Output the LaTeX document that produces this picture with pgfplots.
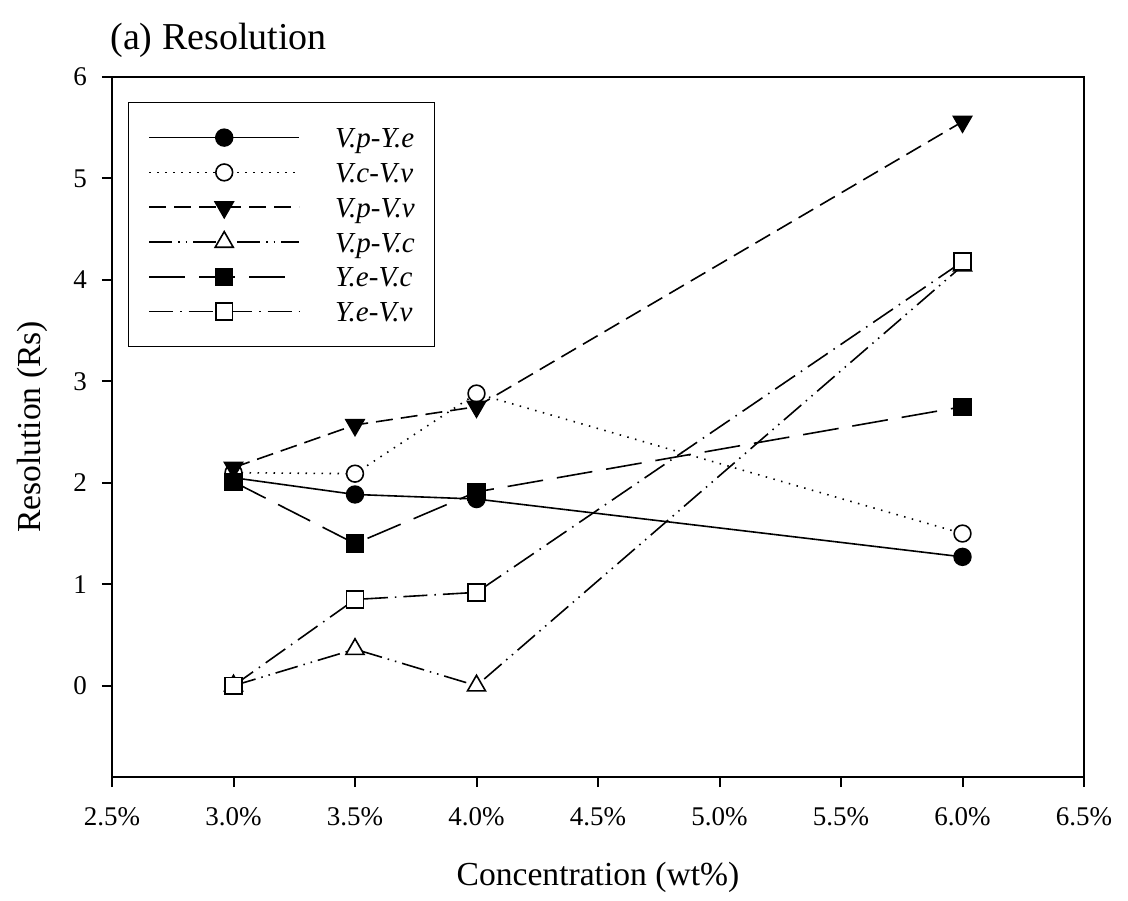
\documentclass[border=0pt]{standalone}
\usepackage{pgfplots}
\pgfplotsset{compat=1.18}
\usepackage{fontspec}
\setmainfont{Liberation Serif}

% Resolution values per concentration (wt%)
\pgfplotstableread{
x    y
3.0  2.05
3.5  1.885
4.0  1.84
6.0  1.27
}\VpYe
\pgfplotstableread{
x    y
3.0  2.10
3.5  2.09
4.0  2.88
6.0  1.50
}\VcVv
\pgfplotstableread{
x    y
3.0  2.15
3.5  2.57
4.0  2.75
6.0  5.56
}\VpVv
\pgfplotstableread{
x    y
3.0  0.00
3.5  0.36
4.0  0.00
6.0  4.14
}\VpVc
\pgfplotstableread{
x    y
3.0  2.01
3.5  1.40
4.0  1.91
6.0  2.75
}\YeVc
\pgfplotstableread{
x    y
3.0  0.00
3.5  0.85
4.0  0.92
6.0  4.18
}\YeVv

\begin{document}
\begin{tikzpicture}[x=1pt,y=1pt]
\useasboundingbox (0,0) rectangle (564,450);
\node[anchor=base west, font=\fontsize{19}{22}\selectfont, inner sep=0pt] at (55,425) {(a) Resolution};
\begin{axis}[
  at={(56pt,61.5pt)}, anchor=south west,
  width=486pt, height=350pt, scale only axis,
  xmin=2.5, xmax=6.5, ymin=-0.9, ymax=6,
  xtick={2.5,3,3.5,4,4.5,5,5.5,6,6.5},
  xticklabels={2.5\%,3.0\%,3.5\%,4.0\%,4.5\%,5.0\%,5.5\%,6.0\%,6.5\%},
  ytick={0,1,2,3,4,5,6},
  yticklabels={0,1,2,3,4,5,6},
  tick align=outside,
  xtick pos=bottom, ytick pos=left,
  major tick length=5pt,
  axis line style={line width=1pt},
  tick style={line width=1pt, black},
  tick label style={font=\fontsize{13.5}{16}\selectfont},
  xticklabel style={yshift=-6.5pt},
  yticklabel style={xshift=-4pt},
  label style={font=\fontsize{16.8}{20}\selectfont},
  xlabel={Concentration (wt\%)},
  ylabel={Resolution (Rs)},
  xlabel style={at={(axis description cs:0.5,-0.143)}, anchor=center},
  ylabel style={at={(axis description cs:-0.0823,0.5)}, anchor=center},
  legend image code/.code={%
    \draw[mark repeat=2,mark phase=2] plot coordinates {(0pt,0pt)(37.5pt,0pt)(75pt,0pt)};
    \path[draw=none] (0pt,0pt) -- (93pt,0pt);},
  legend style={at={(axis description cs:0.0165,0.964)}, anchor=north west,
    draw=black, font=\fontsize{14.5}{16}\selectfont\itshape,
    inner xsep=10pt, inner ysep=9.5pt, row sep=1.4pt,
    nodes={inner xsep=0pt, inner ysep=0pt, text height=13pt, text depth=3pt}},
  legend cell align=left,
  every axis plot/.append style={line width=0.8pt, black},
]
\addplot[solid, mark=*, mark size=4.2pt, mark options={solid, fill=black}]
  table[x=x,y=y] {\VpYe};
\addlegendentry{V.p-Y.e}
\addplot[dash pattern=on 0.75pt off 3.25pt, mark=*, mark size=4.2pt,
  mark options={solid, fill=white}]
  table[x=x,y=y] {\VcVv};
\addlegendentry{V.c-V.v}
\addplot[dash pattern=on 8.5pt off 4pt, mark=triangle*, mark size=5.2pt,
  mark options={solid, fill=black, rotate=180}]
  table[x=x,y=y] {\VpVv};
\addlegendentry{V.p-V.v}
\addplot[dash pattern=on 11.5pt off 3pt on 0.75pt off 3pt on 0.75pt off 3pt,
  mark=triangle*, mark size=5.2pt, mark options={solid, fill=white}]
  table[x=x,y=y] {\VpVc};
\addlegendentry{V.p-V.c}
\addplot[dash pattern=on 18pt off 7pt, mark=square*, mark size=4.2pt,
  mark options={solid, fill=black}]
  table[x=x,y=y] {\YeVc};
\addlegendentry{Y.e-V.c}
\addplot[dash pattern=on 12pt off 3.5pt on 0.75pt off 3.5pt, mark=square*,
  mark size=4.2pt, mark options={solid, fill=white}]
  table[x=x,y=y] {\YeVv};
\addlegendentry{Y.e-V.v}
\end{axis}
\end{tikzpicture}
\end{document}
